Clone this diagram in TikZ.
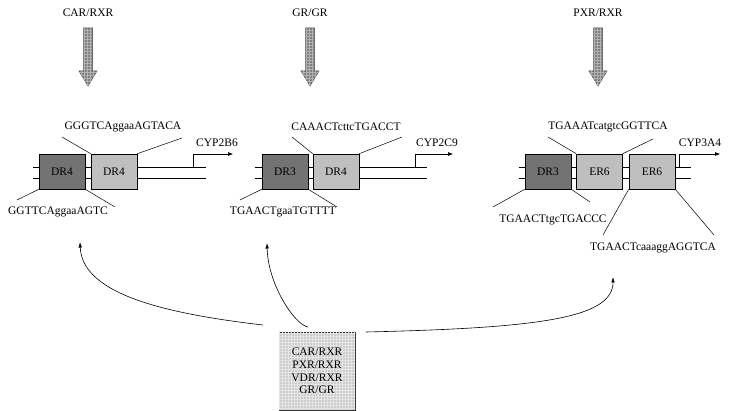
\documentclass[tikz,border=0pt]{standalone}
\usepackage{fontspec}
\setmainfont{Liberation Serif}
\usetikzlibrary{arrows.meta,patterns}
\begin{document}
\begin{tikzpicture}[x=1pt,y=-1pt,
  lbl/.style={font=\fontsize{11.5}{13}\selectfont, inner sep=0pt},
  dbox/.style={draw=black, fill=black!55, minimum width=46pt, minimum height=35pt, inner sep=0pt, font=\fontsize{11.5}{13}\selectfont, line width=0.6pt},
  lbox/.style={dbox, fill=black!25},
  dna/.style={line width=0.6pt},
  tick/.style={line width=0.5pt},
  tss/.style={line width=0.6pt, -{Latex[length=5pt,width=4pt]}},
  bendarrow/.style={line width=0.6pt, -{Latex[length=5.5pt,width=3.6pt]}},
  bigarrow/.style={draw=black!70, fill=black!50, line width=0.5pt, postaction={pattern=grid, pattern color=white!70!black}},
  bbox/.style={draw=black!80, fill=black!20, line width=0.6pt, postaction={pattern=grid, pattern color=white!90!black}, minimum width=76pt, minimum height=78pt, inner sep=0pt, align=center, font=\fontsize{11.5}{12.6}\selectfont}]
\useasboundingbox (0,0) rectangle (729,411);

% top labels and arrows
\node[lbl] (t1) at (88,13) {CAR/RXR};
\node[lbl] (t2) at (310,13) {GR/GR};
\node[lbl] (t3) at (598,13) {PXR/RXR};
\foreach \x in {88,310,598} {
  \draw[bigarrow] (\x-4.5,28) -- (\x+4.5,28) -- (\x+4.5,71) -- (\x+9,71) -- (\x,86) -- (\x-9,71) -- (\x-4.5,71) -- cycle;
}

% panel 1
\draw[dna] (33,167) -- (206,167);
\draw[dna] (33,178) -- (206,178);
\node[dbox] (p1a) at (62,171.5) {DR4};
\node[lbox] (p1b) at (114,171.5) {DR4};
\coordinate (p1s) at (193,167);
\coordinate (p1e) at (233,154);
\draw[tss] (p1s) |- (p1e);
\node[lbl] (p1g) at (217,143) {CYP2B6};
\node[lbl] (p1t) at (123,127) {GGGTCAggaaAGTACA};
\coordinate (p1t1) at (62,137);
\coordinate (p1t2) at (182,138);
\draw[tick] (p1b.north west) -- (p1t1);
\draw[tick] (p1b.north east) -- (p1t2);
\node[lbl] (p1u) at (58,212) {GGTTCAggaaAGTC};
\coordinate (p1u1) at (17,200);
\coordinate (p1u2) at (115,207);
\draw[tick] (p1a.south west) -- (p1u1);
\draw[tick] (p1a.south east) -- (p1u2);

% panel 2
\draw[dna] (255,167) -- (427,167);
\draw[dna] (255,178) -- (427,178);
\node[dbox] (p2a) at (285,171.5) {DR3};
\node[lbox] (p2b) at (336,171.5) {DR4};
\coordinate (p2s) at (415,167);
\coordinate (p2e) at (453,154);
\draw[tss] (p2s) |- (p2e);
\node[lbl] (p2g) at (437,143) {CYP2C9};
\node[lbl] (p2t) at (346,127) {CAAACTcttcTGACCT};
\coordinate (p2t1) at (292,137);
\coordinate (p2t2) at (402,137);
\draw[tick] (p2b.north west) -- (p2t1);
\draw[tick] (p2b.north east) -- (p2t2);
\node[lbl] (p2u) at (283,212) {TGAACTgaaTGTTTT};
\coordinate (p2u1) at (240,200);
\coordinate (p2u2) at (337,207);
\draw[tick] (p2a.south west) -- (p2u1);
\draw[tick] (p2a.south east) -- (p2u2);

% panel 3
\draw[dna] (519,167) -- (691,167);
\draw[dna] (519,178) -- (691,178);
\node[dbox] (p3a) at (548,171.5) {DR3};
\node[lbox] (p3b) at (599.5,171.5) {ER6};
\node[lbox] (p3c) at (652,171.5) {ER6};
\coordinate (p3s) at (679,167);
\coordinate (p3e) at (720,154);
\draw[tss] (p3s) |- (p3e);
\node[lbl] (p3g) at (700,143) {CYP3A4};
\node[lbl] (p3t) at (608,127) {TGAAATcatgtcGGTTCA};
\coordinate (p3t1) at (548,137);
\coordinate (p3t2) at (653,139);
\draw[tick] (p3b.north west) -- (p3t1);
\draw[tick] (p3b.north east) -- (p3t2);
\node[lbl] (p3u) at (553,220) {TGAACTtgcTGACCC};
\coordinate (p3u1) at (493,207);
\coordinate (p3u2) at (590,202);
\draw[tick] (p3a.south west) -- (p3u1);
\draw[tick] (p3a.south east) -- (p3u2);
\node[lbl] (p3v) at (653,247.5) {TGAACTcaaaggAGGTCA};
\coordinate (p3v1) at (603,235);
\coordinate (p3v2) at (714,235);
\draw[tick] (p3c.south west) -- (p3v1);
\draw[tick] (p3c.south east) -- (p3v2);

% bottom box
\node[bbox] (bb) at (317,371) {CAR/RXR\\PXR/RXR\\VDR/RXR\\GR/GR};

% curved arrows
\coordinate (s1) at (263,325);
\coordinate (e1) at (80,242);
\coordinate (s2) at (308,327);
\coordinate (e2) at (267,243);
\coordinate (s3) at (366,332);
\coordinate (e3) at (613,277);
\draw[bendarrow] (s1) .. controls (150,312) and (82,290) .. (e1);
\draw[bendarrow] (s2) .. controls (295,325) and (268,285) .. (e2);
\draw[bendarrow] (s3) .. controls (540,328) and (613,318) .. (e3);
\end{tikzpicture}
\end{document}
